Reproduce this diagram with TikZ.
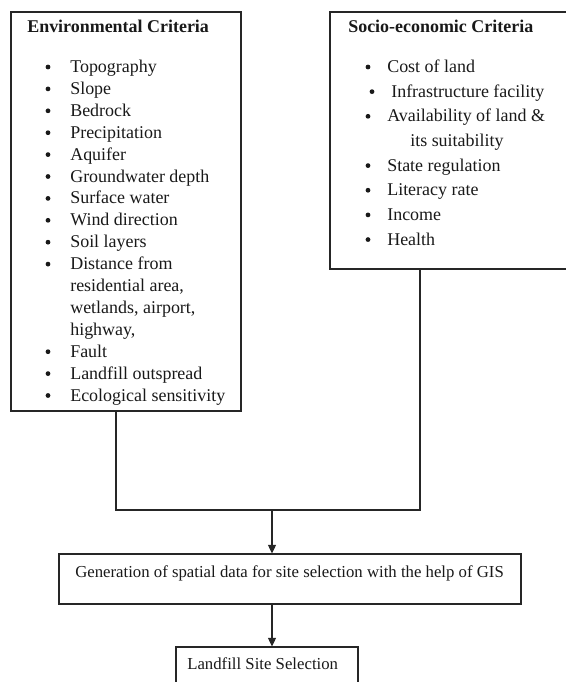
\documentclass[tikz,border=0pt]{standalone}
\usepackage{fontspec}
\setmainfont{Liberation Serif}
\usetikzlibrary{arrows.meta,fit,positioning}

\tikzset{
  box/.style={draw=black!85, line width=0.7pt, inner sep=0pt},
  item/.style={anchor=base west, inner sep=0pt, text=black!90, font=\fontsize{12}{14}\selectfont},
  head/.style={item, font=\fontsize{12}{14}\selectfont\bfseries},
  small/.style={item, font=\fontsize{11.2}{13}\selectfont},
  dot/.style={circle, fill=black!90, inner sep=0pt, minimum size=3.2pt},
  link/.style={draw=black!85, line width=0.7pt},
  arrow/.style={link, -{Triangle[length=5.8pt,width=5.4pt]}}
}

\begin{document}
\begin{tikzpicture}[x=0.6685pt, y=-0.6685pt]
    \useasboundingbox (0,0) rectangle (566,682);
    \clip (0,0) rectangle (566,682);

    % Boxes
    \node[box, fit={(11,12) (241,411)}] (envbox) {};
    \node[box, fit={(330,12) (590,269)}] (socbox) {};
    \node[box, fit={(59,554) (521,604)}] (gisbox) {};
    \node[box, fit={(176,647) (358,700)}] (sitebox) {};

    % Environmental criteria
    \node[head] (envhead) at (27,32) {Environmental Criteria};
    \foreach \txt [count=\i from 0] in {Topography, Slope, Bedrock, Precipitation, Aquifer,
        Groundwater depth, Surface water, Wind direction, Soil layers, Distance from,
        {residential area,}, {wetlands, airport,}, {highway,}, Fault, Landfill outspread,
        Ecological sensitivity}
      \node[item] (envitem\i) at (70,{72.5+21.9*\i}) {\txt};
    \foreach \i in {0,...,9,13,14,15}
      \node[dot] (envdot\i) at (48,{67+21.9*\i}) {};

    % Socio-economic criteria
    \node[head] (sochead) at (348,32) {Socio-economic Criteria};
    \foreach \tx/\txt [count=\i from 0] in {387/Cost of land, 391/Infrastructure facility,
        387/Availability of land \&, 410/its suitability, 387/State regulation,
        387/Literacy rate, 387/Income, 387/Health}
      \node[item] (socitem\i) at (\tx,{72.5+24.65*\i}) {\txt};
    \foreach \i/\bx in {0/368, 1/372, 2/368, 4/368, 5/368, 6/368, 7/368}
      \node[dot] (socdot\i) at (\bx,{67+24.65*\i}) {};

    % Lower boxes
    \node[small] (gistext) at (75,577)
      {Generation of spatial data for site selection with the help of GIS};
    \node[small] (sitetext) at (187,669) {Landfill Site Selection};

    % Connectors
    \coordinate (envfoot) at (116,510);
    \coordinate (socfoot) at (420,510);
    \coordinate (merge) at (272,510);
    \draw[link] (envbox.south -| envfoot) -- (envfoot) -- (socfoot) -- (socbox.south -| socfoot);
    \draw[arrow] (merge) -- (gisbox.north -| merge);
    \draw[arrow] (gisbox.south -| merge) -- (sitebox.north -| merge);
\end{tikzpicture}
\end{document}
